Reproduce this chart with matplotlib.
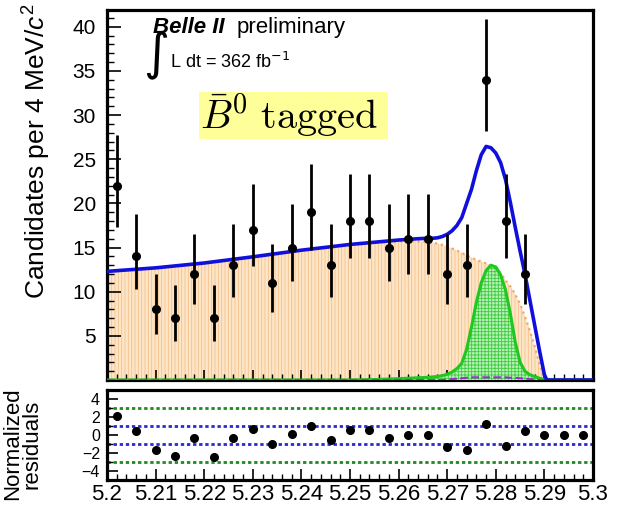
import matplotlib
matplotlib.use("Agg")
import matplotlib.pyplot as plt
from matplotlib.ticker import MultipleLocator, FixedLocator, FixedFormatter
from matplotlib.patches import Rectangle

plt.rcParams['font.family'] = ['Liberation Sans', 'DejaVu Sans']
plt.rcParams['mathtext.fontset'] = 'custom'
plt.rcParams['mathtext.rm'] = 'Liberation Sans'
plt.rcParams['mathtext.it'] = 'Liberation Sans:italic'
plt.rcParams['mathtext.bf'] = 'Liberation Sans:bold'
plt.rcParams['hatch.linewidth'] = 0.6

# ---------------- data ----------------
bin_centers = [5.202, 5.206, 5.210, 5.214, 5.218, 5.222, 5.226, 5.230, 5.234,
               5.238, 5.242, 5.246, 5.250, 5.254, 5.258, 5.262, 5.266, 5.270,
               5.274, 5.278, 5.282, 5.286, 5.290, 5.294, 5.298]
counts = [22, 14, 8, 7, 12, 7, 13, 17, 11, 15, 19, 13, 18, 18, 15, 16, 16, 12,
          13, 34, 18, 12, 0, 0, 0]
err_lo = [4.66, 3.71, 2.76, 2.58, 3.43, 2.58, 3.57, 4.09, 3.29, 3.84, 4.33, 3.57,
          4.21, 4.21, 3.84, 3.97, 3.97, 3.43, 3.57, 5.81, 4.21, 3.43, 0, 0, 0]
err_hi = [5.77, 4.84, 3.96, 3.78, 4.57, 3.78, 4.71, 5.21, 4.43, 4.97, 5.44, 4.71,
          5.33, 5.33, 4.97, 5.09, 5.09, 4.57, 4.71, 6.89, 5.33, 4.57, 0, 0, 0]
residuals = [2.1, 0.44, -1.72, -2.3, -0.37, -2.45, -0.3, 0.66, -1.03, 0.1, 0.99,
             -0.59, 0.55, 0.55, -0.3, 0.0, -0.02, -1.28, -1.72, 1.25, -1.2, 0.44,
             -0.05, -0.05, -0.05]

curve_x = [5.200, 5.210, 5.220, 5.230, 5.240, 5.250, 5.255, 5.260, 5.264, 5.266,
           5.267, 5.268, 5.269, 5.270, 5.271, 5.272, 5.273, 5.274, 5.275, 5.276,
           5.277, 5.278, 5.279, 5.280, 5.281, 5.282, 5.283, 5.284, 5.285, 5.286,
           5.287, 5.288, 5.289, 5.290, 5.2905, 5.300]
curve_total = [12.3, 12.7, 13.25, 13.95, 14.7, 15.35, 15.6, 15.85, 16.0, 16.05,
               16.05, 16.1, 16.25, 16.5, 16.9, 17.5, 18.4, 20.0, 21.6, 23.7,
               25.5, 26.45, 26.3, 25.7, 24.6, 22.7, 20.1, 17.3, 14.6, 12.0,
               9.1, 6.2, 3.3, 0.6, 0.0, 0.0]
curve_bkg = [12.3, 12.7, 13.25, 13.95, 14.7, 15.35, 15.55, 15.7, 15.7, 15.65,
             15.55, 15.45, 15.3, 15.15, 14.9, 14.65, 14.4, 14.1, 13.85, 13.6,
             13.4, 13.2, 13.0, 12.7, 12.1, 11.3, 10.6, 9.7, 8.6, 7.2,
             5.6, 3.8, 1.8, 0.2, 0.0, 0.0]
curve_sig = [0.0, 0.0, 0.0, 0.0, 0.0, 0.0, 0.05, 0.15, 0.25, 0.3,
             0.35, 0.4, 0.5, 0.65, 0.9, 1.3, 1.9, 3.5, 6.0, 8.8,
             11.0, 12.4, 13.0, 12.8, 11.9, 10.2, 7.5, 4.3, 2.0, 1.0,
             0.6, 0.4, 0.2, 0.05, 0.0, 0.0]
curve_other = [0.0, 0.0, 0.0, 0.0, 0.0, 0.0, 0.0, 0.0, 0.0, 0.0,
               0.0, 0.0, 0.0, 0.05, 0.1, 0.15, 0.2, 0.25, 0.3, 0.3,
               0.3, 0.3, 0.3, 0.3, 0.3, 0.3, 0.25, 0.25, 0.2, 0.15,
               0.1, 0.05, 0.0, 0.0, 0.0, 0.0]

xtick_vals = [5.20, 5.21, 5.22, 5.23, 5.24, 5.25, 5.26, 5.27, 5.28, 5.29, 5.30]
xtick_labels = ['5.2', '5.21', '5.22', '5.23', '5.24', '5.25', '5.26', '5.27',
                '5.28', '5.29', '5.3']
ytick_main = [5, 10, 15, 20, 25, 30, 35, 40]
ytick_res = [-4, -2, 0, 2, 4]

# ---------------- figure ----------------
W, H = 625, 505
fig = plt.figure(figsize=(W / 100, H / 100), dpi=100)
ax = fig.add_axes([107 / W, 1 - 380 / H, 486 / W, 370 / H])
rax = fig.add_axes([107 / W, 1 - 480 / H, 486 / W, 90 / H])

# background (orange, hatched)
ax.fill_between(curve_x, 0, curve_bkg, facecolor='#fde6c8', edgecolor='#f6c08a',
                hatch='|||||', linewidth=0, zorder=1)
ax.plot(curve_x, curve_bkg, color='#f4a862', ls=':', lw=1.6, zorder=2)
# signal (green, hatched)
ax.fill_between(curve_x, 0, curve_sig, facecolor='#b8f0b8', edgecolor='#3ccc3c',
                hatch='+++++', linewidth=0, zorder=3)
ax.plot(curve_x, curve_sig, color='#1ec81e', lw=2.2, zorder=4)
# small extra component
ax.plot(curve_x, curve_other, color='#9b30d0', ls='--', lw=1.5, zorder=4)
# total fit
ax.plot(curve_x, curve_total, color='#1010dd', lw=2.6, zorder=5)

# data
xs = [x for x, c in zip(bin_centers, counts) if c > 0]
ys = [c for c in counts if c > 0]
lo = [e for e, c in zip(err_lo, counts) if c > 0]
hi = [e for e, c in zip(err_hi, counts) if c > 0]
ax.errorbar(xs, ys, yerr=[lo, hi], fmt='o', color='black', ms=5.5,
            elinewidth=2.0, capsize=0, zorder=6)

ax.set_xlim(5.2, 5.3)
ax.set_ylim(0, 41.9)
ax.yaxis.set_major_locator(FixedLocator(ytick_main))
ax.yaxis.set_minor_locator(MultipleLocator(1))
ax.xaxis.set_major_locator(FixedLocator(xtick_vals))
ax.xaxis.set_minor_locator(MultipleLocator(0.002))
ax.tick_params(axis='both', which='both', direction='in', top=False, right=False)
ax.tick_params(axis='y', which='major', length=10, width=1.2, labelsize=15, pad=8)
ax.tick_params(axis='y', which='minor', length=5, width=1.0)
ax.tick_params(axis='x', which='major', length=7, width=1.2, labelbottom=False)
ax.tick_params(axis='x', which='minor', length=4, width=1.0)
for s in ax.spines.values():
    s.set_linewidth(2.3)

# residual panel
rax.axhline(3, color='#1f8a1f', ls=(0, (1.2, 1.0)), lw=2.0, zorder=1)
rax.axhline(-3, color='#1f8a1f', ls=(0, (1.2, 1.0)), lw=2.0, zorder=1)
rax.axhline(1, color='#2a2ad0', ls=(0, (1.2, 1.0)), lw=2.0, zorder=1)
rax.axhline(-1, color='#2a2ad0', ls=(0, (1.2, 1.0)), lw=2.0, zorder=1)
rax.plot(bin_centers, residuals, 'o', color='black', ms=5.5, zorder=3)
rax.set_xlim(5.2, 5.3)
rax.set_ylim(-5, 5)
rax.xaxis.set_major_locator(FixedLocator(xtick_vals))
rax.xaxis.set_major_formatter(FixedFormatter(xtick_labels))
rax.xaxis.set_minor_locator(MultipleLocator(0.002))
rax.yaxis.set_major_locator(FixedLocator(ytick_res))
rax.yaxis.set_minor_locator(MultipleLocator(1))
rax.tick_params(axis='both', which='both', direction='in', top=False, right=False)
rax.tick_params(axis='x', which='major', length=8, width=1.2, labelsize=16, pad=3)
rax.tick_params(axis='x', which='minor', length=4, width=1.0)
rax.tick_params(axis='y', which='major', length=8, width=1.2, labelsize=11.5, pad=5)
rax.tick_params(axis='y', which='minor', length=4, width=1.0)
for s in rax.spines.values():
    s.set_linewidth(2.3)

# axis titles
fig.text(37 / W, 1 - 4 / H, 'Candidates per 4 MeV/$c^2$', rotation=90,
         ha='center', va='top', fontsize=19)
fig.text(22 / W, 1 - 444 / H, 'Normalized\nresiduals', rotation=90,
         ha='center', va='center', fontsize=16, linespacing=0.9)

# annotations
ax.text((153 - 107) / 486, (380 - 33) / 370, 'Belle II', transform=ax.transAxes,
        fontsize=16, fontweight='bold', fontstyle='italic', ha='left',
        va='baseline')
ax.text((237 - 107) / 486, (380 - 33) / 370, 'preliminary', transform=ax.transAxes,
        fontsize=16, ha='left', va='baseline')
ax.text((156 - 107) / 486, (380 - 55) / 370, '\u222b', transform=ax.transAxes,
        fontsize=36, ha='center', va='center', family='DejaVu Sans')
ax.text((170 - 107) / 486, (380 - 68) / 370, 'L dt = 362 fb$^{\\mathsf{-1}}$',
        transform=ax.transAxes, fontsize=13, ha='left', va='baseline')

ax.add_patch(Rectangle(((199 - 107) / 486, (380 - 139) / 370), 189 / 486, 47 / 370,
                       transform=ax.transAxes, facecolor='#ffff99',
                       edgecolor='none', zorder=7))
ax.text((200 - 107) / 486, (380 - 129) / 370, r'$\bar{B}^0\ \mathrm{tagged}$',
        transform=ax.transAxes, fontsize=29, ha='left', va='baseline',
        math_fontfamily='cm', zorder=8)

fig.savefig('out.png', dpi=100)
